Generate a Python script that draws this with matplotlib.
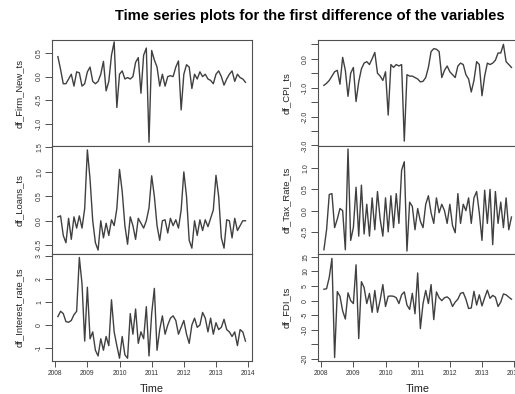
import matplotlib
matplotlib.use("Agg")
import matplotlib.pyplot as plt
import numpy as np

plt.rcParams['font.family'] = ['Liberation Sans', 'DejaVu Sans']

# monthly series, Feb 2008 .. Dec 2013 (first differences)
start, freq = 2008 + 1 / 12, 12

firm_new = [0.42, 0.15, -0.15, -0.15, -0.05, 0.05, -0.2, 0.1, 0.08, -0.2,
            -0.15, 0.1, 0.2, -0.1, -0.15, -0.1, 0.05, 0.32, -0.3, -0.1,
            0.45, 0.73, -0.65, 0.05, 0.12, -0.05, -0.02, -0.05, 0.0, 0.3,
            0.4, -0.35, 0.45, 0.6, -1.38, 0.55, 0.35, 0.2, -0.2, 0.05,
            -0.2, 0.0, 0.02, 0.0, 0.2, 0.33, -0.7, 0.05, 0.25, 0.2,
            -0.25, 0.05, -0.05, 0.1, 0.0, 0.05, -0.05, -0.08, -0.15, 0.05,
            0.12, 0.0, -0.18, -0.05, 0.05, 0.12, -0.1, 0.05, -0.02, -0.05,
            -0.12]

loans = [0.08, 0.1, -0.3, -0.45, 0.05, -0.38, 0.08, -0.15, 0.1, -0.15,
         0.25, 1.45, 0.85, 0.0, -0.45, -0.6, 0.0, -0.35, -0.05, -0.3,
         0.02, -0.1, 0.25, 1.05, 0.6, -0.1, -0.48, 0.08, -0.1, -0.38,
         0.05, -0.05, -0.15, 0.0, 0.26, 0.92, 0.5, -0.1, -0.4, 0.0,
         0.02, -0.25, 0.05, -0.1, 0.02, -0.15, 0.22, 1.0, 0.5, -0.4,
         -0.56, 0.0, -0.3, 0.02, -0.2, 0.02, -0.12, 0.05, 0.22, 0.93,
         0.5, -0.35, -0.56, 0.02, 0.0, -0.35, 0.05, -0.2, -0.1, 0.0,
         0.0]

interest = [0.37, 0.6, 0.5, 0.15, 0.12, 0.2, 0.45, 0.6, 2.95, 1.8,
            -0.7, 1.65, -0.6, -0.3, -1.1, -1.35, -0.6, -1.1, -0.5, -0.9,
            1.1, -0.3, -0.9, -1.45, -0.5, -1.3, -1.45, 0.5, -0.4, 0.7,
            -0.8, -0.3, -0.6, 0.8, -1.35, 0.5, 1.6, -1.1, -0.2, 0.4,
            -0.4, 0.0, 0.3, 0.4, 0.2, -0.4, -0.1, 0.2, -0.4, -0.8,
            0.0, 0.3, -0.1, 0.0, 0.55, 0.3, -0.3, 0.3, -0.4, 0.1,
            -0.2, -0.1, 0.25, -0.2, -0.3, -0.5, -0.3, -0.9, -0.2, -0.3,
            -0.7]

cpi = [-0.92, -0.85, -0.75, -0.6, -0.45, -0.4, -0.88, 0.05, -0.4, -1.3,
       -0.5, -0.3, -1.48, -0.8, -0.35, -0.15, -0.1, -0.2, 0.0, 0.22,
       -0.5, -0.6, -0.75, -0.45, -1.95, -0.2, -0.3, -0.2, -0.25, -0.2,
       -2.85, -0.55, -0.6, -0.6, -0.65, -0.7, -0.8, -0.78, -0.65, -0.3,
       0.25, 0.35, 0.33, 0.25, -0.65, -0.4, -0.25, -0.45, -0.55, -0.65,
       -0.25, -0.15, -0.2, -0.55, -0.7, -1.15, -0.75, -0.1, -0.2, -1.28,
       -0.6, -0.15, -0.2, -0.15, -0.05, 0.2, 0.2, 0.5, -0.1, -0.2,
       -0.3]

tax_rate = [-0.92, -0.45, 0.38, 0.4, -0.4, -0.2, 0.05, 0.0, -0.92, 1.45,
            -0.7, -0.4, 0.55, -0.6, 0.6, -0.55, 0.15, -0.6, 0.3, -0.45,
            0.45, -0.2, -0.6, 0.3, -0.5, 0.35, -0.4, 0.4, -0.3, 0.95,
            1.15, -0.95, 0.2, 0.1, -0.45, 0.05, -0.25, -0.4, 0.15, 0.35,
            -0.05, -0.3, 0.3, -0.05, 0.15, 0.0, -0.3, 0.15, -0.35, -0.52,
            0.4, -0.3, 0.15, 0.0, 0.3, -0.3, 0.3, 0.45, -0.05, -0.7,
            0.48, -0.3, 0.5, -0.8, 0.45, -0.3, 0.2, -0.4, 0.3, -0.45,
            -0.15]

fdi = [3.9, 4.1, 8.0, 14.5, -19.5, 3.1, 1.5, -3.5, -6.3, 2.7,
       0.0, -1.0, 12.3, -13.0, 6.5, 4.5, -1.0, 2.5, -4.0, 3.5,
       -4.0, 0.2, 5.5, -2.0, 1.5, 1.6, 1.5, 1.0, -1.0, 2.0,
       3.0, -1.5, -3.0, 2.5, -4.5, 9.5, -9.6, -1.0, 3.5, -1.0,
       5.5, -6.5, 3.0, 1.0, 0.0, 1.0, 1.3, 0.5, -2.0, -0.5,
       0.5, 2.5, 2.8, 0.5, -2.7, -2.5, 3.2, -1.5, 2.0, -1.8,
       1.0, 3.6, 0.8, 1.8, 1.2, -2.0, -0.5, 2.3, 2.0, 1.2,
       0.5]

years = [2008, 2009, 2010, 2011, 2012, 2013, 2014]

panels = [
    # name, data, column, row, ylim, ticks, labels
    ("df_Firm_New_ts", firm_new, 0, 0, (-1.46, 0.77),
     [0.5, 0.0, -0.5, -1.0], ["0.5", "0.0", "-0.5", "-1.0"]),
    ("df_Loans_ts", loans, 0, 1, (-0.68, 1.53),
     [1.5, 1.0, 0.5, 0.0, -0.5], ["1.5", "1.0", "0.5", "0.0", "-0.5"]),
    ("df_Interest_rate_ts", interest, 0, 2, (-1.57, 3.1),
     [3, 2, 1, 0, -1], ["3", "2", "1", "0", "-1"]),
    ("df_CPI_ts", cpi, 1, 0, (-3.02, 0.65),
     [0.5, 0.0, -0.5, -1.0, -1.5, -2.0, -2.5, -3.0],
     ["", "0.0", "", "-1.0", "", "-2.0", "", "-3.0"]),
    ("df_Tax_Rate_ts", tax_rate, 1, 1, (-1.02, 1.52),
     [1.0, 0.5, 0.0, -0.5], ["1.0", "0.5", "0.0", "-0.5"]),
    ("df_FDI_ts", fdi, 1, 2, (-20.7, 16.0),
     [15, 10, 5, 0, -5, -10, -15, -20],
     ["15", "10", "5", "0", "-5", "-10", "", "-20"]),
]

W, H = 515, 394
fig = plt.figure(figsize=(W / 100, H / 100), dpi=100)

col_x = [52, 318]
row_y = [(40, 146), (146, 254), (254, 361)]
line_col = '#404040'

for name, vals, col, row, ylim, ticks, labels in panels:
    y0, y1 = row_y[row]
    ax = fig.add_axes([col_x[col] / W, 1 - y1 / H, 200 / W, (y1 - y0) / H])
    t = start + np.arange(len(vals)) / freq
    ax.plot(t, vals, color=line_col, lw=1.0)
    ax.set_xlim(2007.9, 2014.12)
    ax.set_ylim(*ylim)
    ax.set_yticks(ticks)
    ax.set_yticklabels(labels)
    ax.tick_params(axis='y', length=5, width=0.6, pad=1.5, labelsize=5,
                   colors='#333333')
    plt.setp(ax.get_yticklabels(), rotation=90, va='center')
    for sp in ax.spines.values():
        sp.set_color('#505050')
        sp.set_linewidth(0.8)
    if row == 2:
        ax.set_xticks(years)
        ax.set_xticklabels([str(y) for y in years])
        ax.tick_params(axis='x', length=4, width=0.6, pad=2.5, labelsize=4.8,
                       colors='#333333')
        ax.set_xlabel("Time", fontsize=7.8, labelpad=5, color='#222222')
    else:
        ax.set_xticks([])
    ax.set_ylabel(name, fontsize=6.8, color='#222222')
    ax.yaxis.set_label_coords(-0.14 if col == 0 else -0.135, 0.5)

fig.text(310 / W, 1 - 16 / H,
         "Time series plots for the first difference of the variables",
         ha='center', va='center', fontsize=10.6, fontweight='bold')

fig.savefig("out.png", dpi=100)
